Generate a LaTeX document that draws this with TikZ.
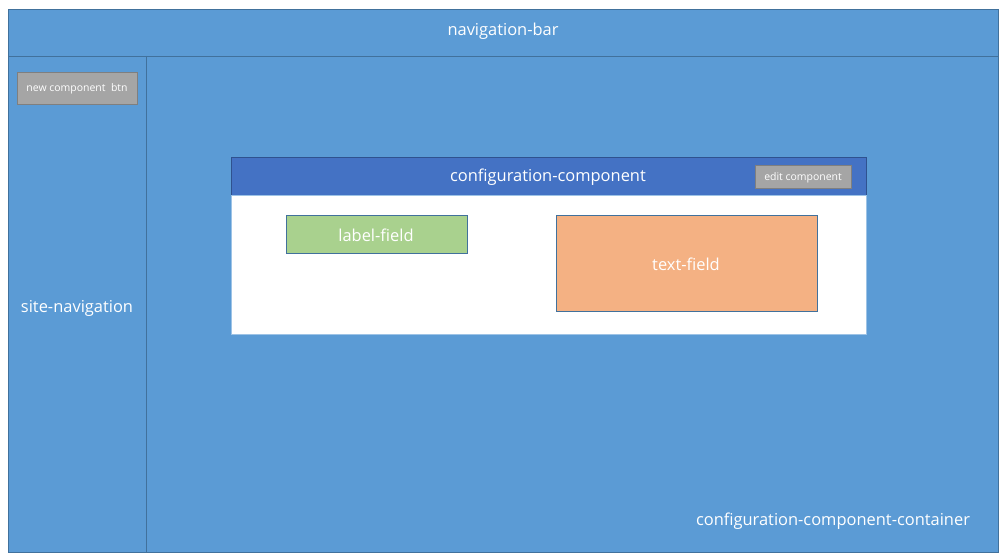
\documentclass[tikz,border=0pt]{standalone}
\usepackage{fontspec}
\setmainfont{Open Sans}
\usetikzlibrary{calc}

\definecolor{kek}{HTML}{5B9BD5}
\definecolor{kekkeret}{HTML}{41719C}
\definecolor{sotetkek}{HTML}{4472C4}
\definecolor{sotetkeret}{HTML}{2F528F}
\definecolor{szurke}{HTML}{A5A5A5}
\definecolor{szurkekeret}{HTML}{7F7F7F}
\definecolor{zold}{HTML}{A9D18E}
\definecolor{narancs}{HTML}{F4B183}

\tikzset{
  felirat/.style={text=white, inner sep=0pt, yshift=-1.5bp, font=\fontsize{16.5}{19}\selectfont},
  kisfelirat/.style={text=white, inner sep=0pt, yshift=-1bp, font=\fontsize{10.5}{12}\selectfont},
}

\begin{document}
\begin{tikzpicture}[x=1bp, y=-1bp]
        % A kép határai
        \useasboundingbox (0,0) rectangle (1003,559);
        % A konténer sarkai
        \coordinate (K1) at (8,9);
        \coordinate (K2) at (998,552);
        % Megrajzoljuk a konténert
        \draw[kekkeret, fill=kek] (K1) rectangle (K2);
        % A navigációs sáv alsó vonala
        \draw[kekkeret] (8,56) -- (998,56);
        % Az oldalsó navigáció jobb széle
        \draw[kekkeret] (146,56) -- (146,552);
        % Az új komponens gomb
        \draw[szurkekeret, fill=szurke] (17,72) rectangle (137,104);
        % A konfigurációs komponens fejléce
        \coordinate (C1) at (231,157);
        \coordinate (C2) at (866,195);
        \draw[sotetkeret, fill=sotetkek] (C1) rectangle (C2);
        % A konfigurációs komponens fehér törzse
        \draw[kek!60!white, fill=white] (231,195) rectangle (866,334);
        % A szerkesztés gomb
        \draw[szurkekeret, fill=szurke] (755,165) rectangle (851,188);
        % A címke mező
        \draw[kekkeret, fill=zold] (286,215) rectangle (467,253);
        % A szöveg mező
        \draw[kekkeret, fill=narancs] (556,215) rectangle (817,311);
        % Beírjuk a feliratokat
        \node[felirat] (navbar) at (503,30) {navigation-bar};
        \node[felirat] (sitenav) at (77,307) {site-navigation};
        \node[kisfelirat] (ujgomb) at (77,88) {new component\ \ btn};
        \node[felirat] (konfig) at (548,176) {configuration-component};
        \node[kisfelirat] (szerk) at (803,176.5) {edit component};
        \node[felirat] (cimke) at (376,234) {label-field};
        \node[felirat] (szoveg) at (686,263) {text-field};
        \node[felirat] (kontener) at (833,520) {configuration-component-container};
    \end{tikzpicture}
\end{document}
